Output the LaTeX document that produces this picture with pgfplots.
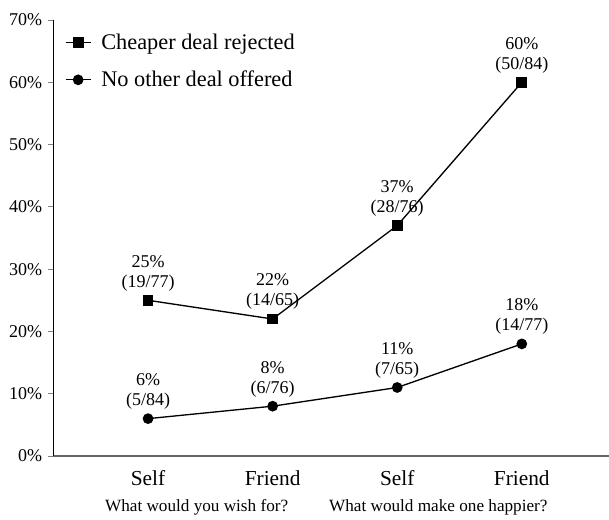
\documentclass[border=0pt]{standalone}
\usepackage{fontspec}
\setmainfont{Liberation Serif}
\usepackage{pgfplots}
\pgfplotsset{compat=1.18}

\begin{document}
\begin{tikzpicture}
	\begin{axis}[
		scale only axis,
		width=333.6pt, height=261.6pt,
		xmin=-0.763, xmax=3.70,
		ymin=0, ymax=70,
		axis x line=bottom, axis y line=left,
		axis line style={-},
		x axis line style={draw=black!60, line width=0.9pt},
		y axis line style={line width=0.6pt},
		clip=false,
		/pgf/number format/assume math mode=true,
		xtick={0,1,2,3},
		xticklabels={Self, Friend, Self, Friend},
		xtick style={draw=none},
		xticklabel style={font=\fontsize{12.8}{14}\selectfont, yshift=-2pt},
		ytick={0,10,...,70},
		yticklabel={\pgfmathprintnumber{\tick}\%},
		yticklabel style={font=\fontsize{10.8}{12}\selectfont},
		tick align=outside,
		major tick length=3pt,
		ytick style={line width=0.6pt},
		nodes near coords,
		point meta=explicit symbolic,
		every node near coord/.append style={
			font=\fontsize{10.8}{12}\selectfont,
			align=center, anchor=south, yshift=1.8pt
		},
		legend style={
			at={(0.012,0.985)}, anchor=north west,
			draw=none, fill=none,
			font=\fontsize{13.4}{15}\selectfont,
			row sep=7.5pt,
			/tikz/every odd column/.append style={column sep=4pt},
		},
		legend cell align=left,
		legend image code/.code={
			\draw[mark repeat=2, mark phase=2]
				plot coordinates {(0pt,0pt) (7.5pt,0pt) (15pt,0pt)};
		},
	]
		% cheaper deal rejected
		\addplot[black, line width=0.8pt, mark=square*, mark size=2.8pt] coordinates {
			(0,25) [25\%\\(19/77)]
			(1,22) [22\%\\(14/65)]
			(2,37) [37\%\\(28/76)]
			(3,60) [60\%\\(50/84)]
		};
		% no other deal offered
		\addplot[black, line width=0.8pt, mark=*, mark size=2.8pt] coordinates {
			(0,6) [6\%\\(5/84)]
			(1,8) [8\%\\(6/76)]
			(2,11) [11\%\\(7/65)]
			(3,18) [18\%\\(14/77)]
		};
		\legend{Cheaper deal rejected, No other deal offered}

		\node[font=\fontsize{10.3}{12}\selectfont] at (axis cs:0.39,0) [yshift=-30.6pt] {What would you wish for?};
		\node[font=\fontsize{10.3}{12}\selectfont] at (axis cs:2.33,0) [yshift=-30.6pt] {What would make one happier?};
	\end{axis}
	\pgfresetboundingbox
	\path[use as bounding box] (-31.8pt,-37.8pt) rectangle (333.6pt,273.6pt);
\end{tikzpicture}
\end{document}
